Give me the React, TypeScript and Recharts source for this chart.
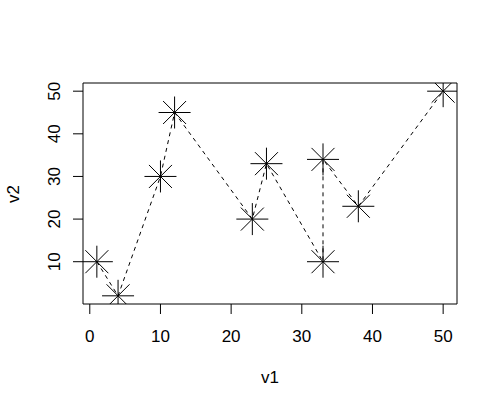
import { ReferenceArea, Scatter, ScatterChart, XAxis, YAxis } from 'recharts'

const v1 = [1, 4, 10, 12, 23, 25, 33, 33, 38, 50]
const v2 = [10, 2, 30, 45, 20, 33, 10, 34, 23, 50]
const xTicks = [0, 10, 20, 30, 40, 50]
const yTicks = [10, 20, 30, 40, 50]

// R's default 4% axis extension
const xDomain: [number, number] = [-0.96, 51.96]
const yDomain: [number, number] = [0.08, 51.92]

const data = v1.map((x, i) => ({ v1: x, v2: v2[i] }))

const FONT = '"Liberation Sans", Arial, sans-serif'
const FS = 17

function Star(props: { cx?: number; cy?: number }) {
  const { cx = 0, cy = 0 } = props
  const p = 16
  const d = 11.5
  return (
    <g stroke="#000" strokeWidth={1}>
      <line x1={cx - p} y1={cy} x2={cx + p} y2={cy} />
      <line x1={cx} y1={cy - p} x2={cx} y2={cy + p} />
      <line x1={cx - d} y1={cy - d} x2={cx + d} y2={cy + d} />
      <line x1={cx - d} y1={cy + d} x2={cx + d} y2={cy - d} />
    </g>
  )
}

function XTick({ x, y, payload }: any) {
  return (
    <text x={x} y={y + 28.3} textAnchor="middle" fontFamily={FONT} fontSize={FS} fill="#000">
      {payload.value}
    </text>
  )
}

function YTick({ x, y, payload }: any) {
  const tx = x - 12.6
  return (
    <text
      x={tx}
      y={y}
      transform={`rotate(-90, ${tx}, ${y})`}
      textAnchor="middle"
      fontFamily={FONT}
      fontSize={FS}
      fill="#000"
    >
      {payload.value}
    </text>
  )
}

export default function App() {
  return (
    <div style={{ position: 'absolute', left: 0, top: 0, width: 500, height: 409, background: '#fff' }}>
      <ScatterChart width={500} height={409} margin={{ top: 83, right: 43, left: 23, bottom: 45 }}>
        <XAxis
          type="number"
          dataKey="v1"
          domain={xDomain}
          ticks={xTicks}
          allowDataOverflow
          height={60}
          axisLine={false}
          tickLine={{ stroke: '#000' }}
          tickSize={10}
          tickMargin={0}
          tick={<XTick />}
          label={{
            content: () => (
              <text x={270} y={382.5} textAnchor="middle" fontFamily={FONT} fontSize={FS} fill="#000">
                v1
              </text>
            ),
          }}
        />
        <YAxis
          type="number"
          dataKey="v2"
          domain={yDomain}
          ticks={yTicks}
          allowDataOverflow
          width={60}
          axisLine={false}
          tickLine={{ stroke: '#000' }}
          tickSize={10}
          tickMargin={0}
          tick={<YTick />}
          label={{
            content: () => (
              <text
                x={19.3}
                y={194}
                transform="rotate(-90, 19.3, 194)"
                textAnchor="middle"
                fontFamily={FONT}
                fontSize={FS}
                fill="#000"
              >
                v2
              </text>
            ),
          }}
        />
        <ReferenceArea
          x1={xDomain[0]}
          x2={xDomain[1]}
          y1={yDomain[0]}
          y2={yDomain[1]}
          fill="none"
          stroke="#000"
          strokeWidth={1}
          fillOpacity={0}
        />
        <Scatter
          data={data}
          isAnimationActive={false}
          line={{ stroke: '#000', strokeWidth: 1, strokeDasharray: '4 4' }}
          lineType="joint"
          shape={<Star />}
        />
      </ScatterChart>
    </div>
  )
}
